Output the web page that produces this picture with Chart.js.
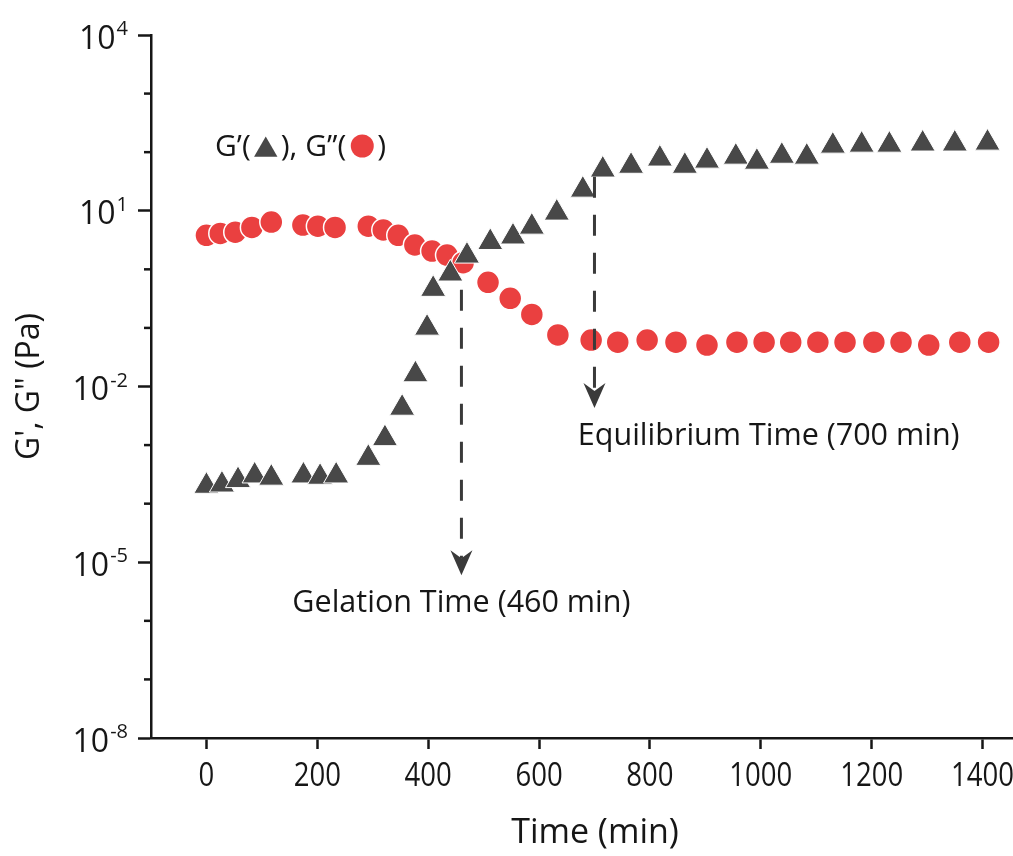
<!DOCTYPE html>
<html>
<head>
<meta charset="utf-8">
<script src="https://cdn.jsdelivr.net/npm/chart.js@4.4.1/dist/chart.umd.min.js"></script>
<style>
  html, body { margin: 0; padding: 0; background: #ffffff; }
  #wrap { width: 1013px; height: 856px; position: relative; }
</style>
</head>
<body>
<div id="wrap"><canvas id="rheology" width="1013" height="856"></canvas></div>
<script>
// Storage modulus G' (triangles): time in min, modulus in Pa
const storageTime = [0, 28, 57, 87, 117, 175, 205, 234, 292, 322, 353, 377, 398, 409, 440, 470, 512, 553, 587, 632, 679, 715, 766, 818, 863, 903, 955, 993, 1038, 1083, 1130, 1182, 1232, 1292, 1350, 1409];
const storageModulus = [2.0e-4, 2.1e-4, 2.5e-4, 3.0e-4, 2.75e-4, 3.0e-4, 2.85e-4, 3.0e-4, 6.0e-4, 1.3e-3, 4.3e-3, 0.016, 0.10, 0.46, 0.84, 1.7, 2.9, 3.6, 5.3, 9.2, 22.7, 50, 58, 77, 58, 71, 83, 68, 86, 83, 128, 133, 133, 139, 139, 144];

// Loss modulus G'' (circles)
const lossTime = [0, 25, 52, 82, 117, 174, 201, 232, 292, 319, 346, 376, 407, 434, 463, 508, 548, 587, 634, 694, 742, 795, 847, 903, 957, 1006, 1054, 1103, 1152, 1204, 1253, 1303, 1359, 1411];
const lossModulus = [3.8, 4.1, 4.3, 5.2, 6.4, 5.7, 5.45, 5.2, 5.45, 4.7, 3.8, 2.6, 2.05, 1.75, 1.3, 0.60, 0.32, 0.17, 0.076, 0.062, 0.057, 0.062, 0.057, 0.051, 0.057, 0.057, 0.057, 0.057, 0.057, 0.057, 0.057, 0.051, 0.057, 0.057];

// Axis ticks
const timeTicks = [0, 200, 400, 600, 800, 1000, 1200, 1400];
const decadeExponents = [-8, -7, -6, -5, -4, -3, -2, -1, 0, 1, 2, 3, 4];
const labelledExponents = [-8, -5, -2, 1, 4];

// Marked events on the time axis
const eventTimes = [460, 700];
const eventLabels = ['Gelation Time (460 min)', 'Equilibrium Time (700 min)'];

const FONT = "'Open Sans', 'Noto Sans', sans-serif";
const INK = '#161616';
const TRI = '#484848';
const DOT = '#ea4040';
const ARROW = '#3a3a3a';

function drawTriangle(ctx, cx, cy, r) {
  ctx.beginPath();
  ctx.moveTo(cx, cy - r);
  ctx.lineTo(cx + r * Math.sin(2 * Math.PI / 3), cy + r / 2);
  ctx.lineTo(cx - r * Math.sin(2 * Math.PI / 3), cy + r / 2);
  ctx.closePath();
  ctx.fill();
}

function arrowHead(ctx, x, tipY) {
  ctx.beginPath();
  ctx.moveTo(x, tipY);
  ctx.lineTo(x - 11, tipY - 25);
  ctx.lineTo(x, tipY - 17);
  ctx.lineTo(x + 11, tipY - 25);
  ctx.closePath();
  ctx.fill();
}

// Event arrows: dashed drop line from the curve down to a caption
const eventArrows = {
  id: 'eventArrows',
  afterDatasetsDraw(chart, args, opts) {
    const { ctx, scales: { x, y } } = chart;
    ctx.save();
    opts.items.forEach((item, i) => {
      const px = x.getPixelForValue(eventTimes[i]);
      const top = y.getPixelForValue(item.from);
      const tip = y.getPixelForValue(item.to);
      ctx.strokeStyle = ARROW;
      ctx.fillStyle = ARROW;
      ctx.lineWidth = 3;
      ctx.setLineDash([21, 17]);
      ctx.beginPath();
      ctx.moveTo(px, top);
      ctx.lineTo(px, tip - 17);
      ctx.stroke();
      ctx.setLineDash([]);
      arrowHead(ctx, px, tip);

      ctx.fillStyle = INK;
      ctx.font = '30.5px ' + FONT;
      ctx.textBaseline = 'alphabetic';
      if (item.align === 'center') {
        ctx.textAlign = 'center';
        ctx.fillText(eventLabels[i], px, tip + 37);
      } else {
        ctx.textAlign = 'left';
        ctx.fillText(eventLabels[i], x.getPixelForValue(item.textFrom), tip + 37);
      }
    });
    ctx.restore();
  }
};

// Tick labels, minor ticks, axis titles and the inline key
const decor = {
  id: 'decor',
  afterDraw(chart) {
    const { ctx, scales: { x, y } } = chart;
    ctx.save();

    // short ticks at unlabelled decades
    ctx.strokeStyle = INK;
    ctx.lineWidth = 2.5;
    decadeExponents.forEach(e => {
      if (labelledExponents.includes(e)) return;
      const py = y.getPixelForValue(Math.pow(10, e));
      ctx.beginPath();
      ctx.moveTo(x.left - 7, py);
      ctx.lineTo(x.left, py);
      ctx.stroke();
    });

    // 10^n labels
    ctx.fillStyle = INK;
    ctx.textBaseline = 'alphabetic';
    ctx.textAlign = 'left';
    labelledExponents.forEach(e => {
      const py = y.getPixelForValue(Math.pow(10, e));
      const exp = String(e);
      ctx.font = '20px ' + FONT;
      const ew = ctx.measureText(exp).width;
      ctx.font = '32px ' + FONT;
      const bw = ctx.measureText('10').width;
      const right = x.left - 23;
      ctx.fillText('10', right - ew - 1 - bw, py + 13.5);
      ctx.font = '20px ' + FONT;
      ctx.fillText(exp, right - ew, py);
    });

    // time tick labels (slightly condensed digits)
    ctx.font = '32px ' + FONT;
    ctx.textAlign = 'center';
    timeTicks.forEach(t => {
      ctx.save();
      ctx.translate(x.getPixelForValue(t), 786);
      ctx.scale(0.86, 1);
      ctx.fillText(String(t), 0, 0);
      ctx.restore();
    });

    // axis titles
    ctx.textBaseline = 'middle';
    ctx.save();
    ctx.translate(30, (y.top + y.bottom) / 2);
    ctx.rotate(-Math.PI / 2);
    ctx.fillText('G\', G" (Pa)', 0, 0);
    ctx.restore();

    ctx.font = '34px ' + FONT;
    ctx.fillText('Time (min)', 595, 833);

    // inline key: G'(triangle), G''(circle)
    ctx.font = '30px ' + FONT;
    ctx.textAlign = 'left';
    ctx.textBaseline = 'alphabetic';
    let kx = 215;
    const ky = 156;
    const parts1 = 'G\u2019(';
    ctx.fillText(parts1, kx, ky);
    kx += ctx.measureText(parts1).width + 3;
    ctx.fillStyle = TRI;
    drawTriangle(ctx, kx + 12, ky - 6, 13.5);
    kx += 27;
    ctx.fillStyle = INK;
    const parts2 = '), G\u201D(';
    ctx.fillText(parts2, kx, ky);
    kx += ctx.measureText(parts2).width + 5;
    ctx.fillStyle = DOT;
    ctx.beginPath();
    ctx.arc(kx + 11, ky - 10, 11.5, 0, Math.PI * 2);
    ctx.fill();
    kx += 26;
    ctx.fillStyle = INK;
    ctx.fillText(')', kx, ky);

    ctx.restore();
  }
};

const ctx = document.getElementById('rheology').getContext('2d');

new Chart(ctx, {
  type: 'scatter',
  data: {
    datasets: [
      {
        label: "G'",
        data: storageTime.map((t, i) => ({ x: t, y: storageModulus[i] })),
        pointStyle: 'triangle',
        pointRadius: 14.5,
        pointHoverRadius: 14.5,
        backgroundColor: TRI,
        borderColor: '#ffffff',
        borderWidth: 1,
        clip: false
      },
      {
        label: 'G"',
        data: lossTime.map((t, i) => ({ x: t, y: lossModulus[i] })),
        pointStyle: 'circle',
        pointRadius: 11.5,
        pointHoverRadius: 11.5,
        backgroundColor: DOT,
        borderColor: '#ffffff',
        borderWidth: 1.5,
        clip: false
      }
    ]
  },
  options: {
    responsive: false,
    animation: false,
    devicePixelRatio: 1,
    events: [],
    layout: { autoPadding: false, padding: { top: 35, right: 0, bottom: 0, left: 0 } },
    plugins: {
      legend: { display: false },
      tooltip: { enabled: false },
      eventArrows: {
        items: [
          { from: 0.45, to: 6e-6, align: 'center' },
          { from: 38, to: 4.3e-3, align: 'left', textFrom: 670 }
        ]
      }
    },
    scales: {
      x: {
        type: 'linear',
        position: 'bottom',
        min: -100,
        max: 1455,
        afterBuildTicks: s => { s.ticks = timeTicks.map(v => ({ value: v })); },
        afterFit: s => { s.height = 118; s.paddingLeft = 0; s.paddingRight = 0; },
        border: { display: true, color: INK, width: 2.5 },
        grid: { display: true, drawOnChartArea: false, drawTicks: true, tickLength: 11, tickColor: INK, tickWidth: 2.5 },
        ticks: { display: true, callback: () => '', maxRotation: 0, autoSkip: false }
      },
      y: {
        type: 'logarithmic',
        position: 'left',
        min: 1e-8,
        max: 1e4,
        afterBuildTicks: s => { s.ticks = decadeExponents.map(e => ({ value: Math.pow(10, e) })); },
        afterFit: s => { s.width = 151; s.paddingTop = 0; s.paddingBottom = 0; },
        border: { display: true, color: INK, width: 2.5 },
        grid: {
          display: true,
          drawOnChartArea: false,
          drawTicks: true,
          tickLength: 13,
          tickWidth: 2.5,
          tickColor: c => {
            const e = Math.round(Math.log10(c.tick.value));
            return labelledExponents.includes(e) ? INK : 'rgba(0,0,0,0)';
          }
        },
        ticks: { display: true, callback: () => '', autoSkip: false }
      }
    }
  },
  plugins: [eventArrows, decor]
});
</script>
</body>
</html>
